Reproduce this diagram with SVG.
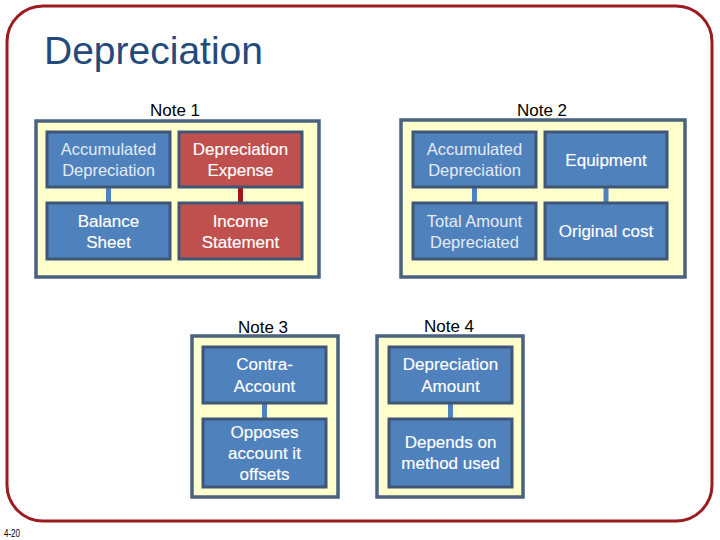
<svg xmlns="http://www.w3.org/2000/svg" width="720" height="540" viewBox="0 0 720 540">
<style>
.panel{fill:#FFFFCC;stroke:#4A6180;stroke-width:3.5}
.bb{fill:#4F81BD;stroke:#3F5677;stroke-width:3}
.rb{fill:#C0504D;stroke:#3F5677;stroke-width:3}
.t{font-family:"Liberation Sans",Arial,sans-serif;font-size:17px;fill:#FFFFFF;text-anchor:middle;stroke:#FFFFFF;stroke-width:0.15}
.lt{font-family:"Liberation Sans",Arial,sans-serif;font-size:16.5px;fill:#E4ECF6;text-anchor:middle}
.note{font-family:"Liberation Sans",Arial,sans-serif;font-size:17px;fill:#000000;text-anchor:middle}
.cb{stroke:#4F81BD;stroke-width:5}
.cr{stroke:#A5141C;stroke-width:5}
</style>
<rect x="0" y="0" width="720" height="540" fill="#FFFFFF"/>
<rect x="7" y="6" width="705" height="515" rx="36" ry="36" fill="none" stroke="#9B1B1F" stroke-width="3"/>
<text x="44" y="64" font-family="Liberation Sans,Arial,sans-serif" font-size="39" fill="#244A7C">Depreciation</text>
<text x="4" y="537" font-family="Liberation Sans,Arial,sans-serif" font-size="11" fill="#000000" textLength="16" lengthAdjust="spacingAndGlyphs">4-20</text>

<g id="note1">
<text class="note" x="175" y="116">Note 1</text>
<rect class="panel" x="36" y="121" width="283" height="156"/>
</g>
<g id="note2">
<text class="note" x="542" y="116">Note 2</text>
<rect class="panel" x="401" y="120" width="284" height="157"/>
</g>
<g id="note3">
<text class="note" x="263" y="333">Note 3</text>
<rect class="panel" x="192" y="336" width="146" height="161"/>
</g>
<g id="note4">
<text class="note" x="449" y="332">Note 4</text>
<rect class="panel" x="377" y="336" width="146" height="161"/>
</g>

<g id="connectors">
<line class="cb" x1="108.5" y1="187" x2="108.5" y2="203"/>
<line class="cr" x1="240.5" y1="187" x2="240.5" y2="203"/>
<line class="cb" x1="474.5" y1="187" x2="474.5" y2="203"/>
<line class="cb" x1="606" y1="187" x2="606" y2="203"/>
<line class="cb" x1="264.5" y1="403" x2="264.5" y2="419"/>
<line class="cb" x1="450.5" y1="403" x2="450.5" y2="419"/>
</g>

<g id="accum-dep-1">
<rect class="bb" x="47" y="132" width="123" height="55"/>
<text class="lt" x="108.5" y="155">Accumulated</text>
<text class="lt" x="108.5" y="176">Depreciation</text>
</g>
<g id="balance-sheet">
<rect class="bb" x="47" y="203" width="123" height="56"/>
<text class="t" x="108.5" y="227">Balance</text>
<text class="t" x="108.5" y="248">Sheet</text>
</g>
<g id="dep-expense">
<rect class="rb" x="179" y="132" width="123" height="55"/>
<text class="t" x="240.5" y="155">Depreciation</text>
<text class="t" x="240.5" y="176">Expense</text>
</g>
<g id="income-statement">
<rect class="rb" x="179" y="203" width="123" height="56"/>
<text class="t" x="240.5" y="227">Income</text>
<text class="t" x="240.5" y="248">Statement</text>
</g>

<g id="accum-dep-2">
<rect class="bb" x="413" y="132" width="123" height="55"/>
<text class="lt" x="474.5" y="155">Accumulated</text>
<text class="lt" x="474.5" y="176">Depreciation</text>
</g>
<g id="total-amount">
<rect class="bb" x="413" y="203" width="123" height="56"/>
<text class="lt" x="474.5" y="227">Total Amount</text>
<text class="lt" x="474.5" y="248">Depreciated</text>
</g>
<g id="equipment">
<rect class="bb" x="545" y="132" width="122" height="55"/>
<text class="t" x="606" y="166">Equipment</text>
</g>
<g id="original-cost">
<rect class="bb" x="545" y="203" width="122" height="56"/>
<text class="t" x="606" y="237">Original cost</text>
</g>

<g id="contra-account">
<rect class="bb" x="203" y="347" width="123" height="56"/>
<text class="t" x="264.5" y="370">Contra-</text>
<text class="t" x="264.5" y="392">Account</text>
</g>
<g id="opposes">
<rect class="bb" x="203" y="419" width="123" height="68"/>
<text class="t" x="264.5" y="438">Opposes</text>
<text class="t" x="264.5" y="459">account it</text>
<text class="t" x="264.5" y="480">offsets</text>
</g>
<g id="dep-amount">
<rect class="bb" x="389" y="347" width="123" height="56"/>
<text class="t" x="450.5" y="370">Depreciation</text>
<text class="t" x="450.5" y="392">Amount</text>
</g>
<g id="depends">
<rect class="bb" x="389" y="419" width="123" height="68"/>
<text class="t" x="450.5" y="448">Depends on</text>
<text class="t" x="450.5" y="469">method used</text>
</g>
</svg>
